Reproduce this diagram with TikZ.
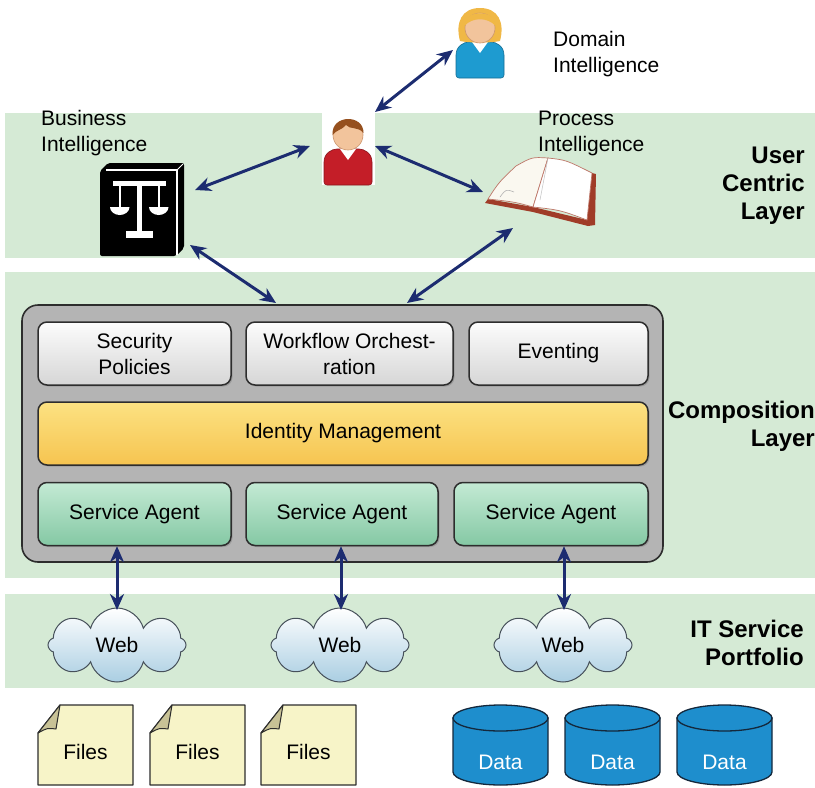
\documentclass[tikz,border=0pt]{standalone}
\usepackage{fontspec}
\setmainfont{Liberation Sans}
\usetikzlibrary{arrows.meta,shapes.symbols,shadows}

\definecolor{band}{RGB}{213,234,213}
\definecolor{arrowblue}{RGB}{28,44,112}
\definecolor{outergray}{RGB}{180,180,180}
\definecolor{boxline}{RGB}{45,45,45}
\definecolor{greytop}{RGB}{252,252,252}
\definecolor{greybot}{RGB}{214,214,214}
\definecolor{yeltop}{RGB}{252,226,130}
\definecolor{yelbot}{RGB}{246,196,80}
\definecolor{agenttop}{RGB}{196,234,212}
\definecolor{agentbot}{RGB}{132,200,164}
\definecolor{cloudblue}{RGB}{170,206,226}
\definecolor{cloudline}{RGB}{70,80,90}
\definecolor{fileyellow}{RGB}{247,244,200}
\definecolor{foldtan}{RGB}{200,194,150}
\definecolor{datablue}{RGB}{30,142,205}
\definecolor{dataline}{RGB}{20,40,60}
\definecolor{skin}{RGB}{242,196,156}
\definecolor{skinline}{RGB}{205,150,110}
\definecolor{manhair}{RGB}{150,80,30}
\definecolor{womanhair}{RGB}{240,184,70}
\definecolor{redbody}{RGB}{196,30,40}
\definecolor{bluebody}{RGB}{30,155,208}
\definecolor{bookbrown}{RGB}{160,60,40}
\definecolor{pagecream}{RGB}{250,248,240}

\tikzset{
  txt/.style={font=\fontsize{21}{26}\selectfont, inner sep=0pt},
  layerlabel/.style={font=\fontsize{24}{28}\selectfont\bfseries, align=right, anchor=east, inner sep=0pt},
  intlabel/.style={txt, align=left, anchor=west},
  modbox/.style={draw=boxline, line width=1.5pt, rounded corners=9pt, align=center,
    txt, minimum height=63pt,
    drop shadow={shadow xshift=1.5pt, shadow yshift=-1.5pt, opacity=0.45}},
  greybox/.style={modbox, top color=greytop, bottom color=greybot},
  yelbox/.style={modbox, top color=yeltop, bottom color=yelbot},
  agentbox/.style={modbox, top color=agenttop, bottom color=agentbot},
  webcloud/.style={cloud, cloud puffs=8, aspect=1.9, minimum width=138pt,
    minimum height=74pt, draw=cloudline, line width=1pt,
    top color=white, bottom color=cloudblue, txt},
  conn/.style={draw=arrowblue, line width=3pt,
    {Stealth[length=16pt,width=14pt]}-{Stealth[length=16pt,width=14pt]}},
  pics/person/.style n args={3}{code={
    % body
    \path[fill=#1, draw=#1!70!black, line width=0.6pt, rounded corners=3pt]
      (-24,50) -- (-24,30) .. controls (-24,18) and (-16,14) .. (-8,14)
      -- (8,14) .. controls (16,14) and (24,18) .. (24,30) -- (24,50) -- cycle;
    \fill[white] (-8,14) -- (0,25) -- (8,14) -- cycle;
    % hair behind the head
    \ifnum#3=1
      \fill[#2] (-20,13) .. controls (-25,-6) and (-18,-20) .. (0,-20)
        .. controls (18,-20) and (25,-6) .. (20,13)
        .. controls (12,15) and (-12,15) .. (-20,13) -- cycle;
    \fi
    % head
    \path[fill=skin, draw=skinline, line width=0.6pt] (0,0) circle[radius=15];
    % fringe
    \ifnum#3=1
      \fill[#2] (-15.5,-2) .. controls (-16,-19) and (16,-19) .. (15.5,-2)
        .. controls (8,-11) and (-8,-11) .. (-15.5,-2) -- cycle;
    \else
      \fill[#2] (-15.5,0) .. controls (-17,-21) and (16,-21) .. (15.5,-2)
        .. controls (10,-9) and (2,-5) .. (-2,-10)
        .. controls (-6,-5) and (-12,-5) .. (-15.5,0) -- cycle;
    \fi
  }}
}

\begin{document}
\begin{tikzpicture}[x=1pt,y=-1pt]
\useasboundingbox (0,0) rectangle (815,788);

% layer bands
\fill[band] (5,113) rectangle (815,258);
\fill[band] (5,272) rectangle (815,578);
\fill[band] (5,594) rectangle (815,688);

% layer titles
\node[layerlabel] (ucl) at (805,186) {User\\Centric\\Layer};
\node[layerlabel] (cl) at (815,426) {Composition\\Layer};
\node[layerlabel] (itsp) at (804,643) {IT Service\\Portfolio};

% composition container
\path[fill=outergray, draw=boxline, line width=1.6pt, rounded corners=16pt]
  (22,305) rectangle (663,562);
\node[inner sep=0pt, minimum width=641pt, minimum height=257pt] (comp) at (342.5,433.5) {};

\node[greybox, minimum width=193pt] (sec) at (134.5,353.5) {Security\\Policies};
\node[greybox, minimum width=207pt] (wf) at (349.5,353.5) {Workflow Orchest-\\ration};
\node[greybox, minimum width=179pt] (ev) at (558.5,353.5) {Eventing};
\node[yelbox, minimum width=610pt] (idm) at (343,433.5) {Identity Management};
\node[agentbox, minimum width=193pt] (sa1) at (134.5,514) {Service Agent};
\node[agentbox, minimum width=192pt] (sa2) at (342,514) {Service Agent};
\node[agentbox, minimum width=194pt] (sa3) at (551,514) {Service Agent};

% web clouds
\node[webcloud] (web1) at (117,645) {Web};
\node[webcloud] (web2) at (340,645) {Web};
\node[webcloud] (web3) at (563,645) {Web};

\draw[conn] (sa1.south -| 117,0) -- (117,610) coordinate (w1top);
\draw[conn] (sa2.south -| 341,0) -- (341,610) coordinate (w2top);
\draw[conn] (sa3.south -| 564,0) -- (564,610) coordinate (w3top);

% file sheets with folded corner
\foreach \x/\n in {38/1,150/2,261/3} {
  \path[draw=boxline, line width=1.2pt, fill=fileyellow, line join=round]
    (\x+22,705) -- (\x+95,705) -- (\x+95,785) -- (\x,785) -- (\x,733) -- cycle;
  \path[draw=boxline, line width=1pt, fill=foldtan, line join=round]
    (\x+22,705) -- (\x,733) .. controls (\x+9,728) .. (\x+18,729) -- cycle;
  \node[txt] (file\n) at (\x+47.5,752) {Files};
}

% data stores
\foreach \c/\n in {500.5/1,612.5/2,724.5/3} {
  \path[fill=datablue, draw=dataline, line width=1.3pt]
    (\c-47.5,718) -- (\c-47.5,772)
    arc[start angle=180, end angle=0, x radius=47.5, y radius=13]
    -- (\c+47.5,718) -- cycle;
  \path[fill=datablue, draw=dataline, line width=1.3pt]
    (\c,718) ellipse[x radius=47.5, y radius=13];
  \node[txt, text=white] (data\n) at (\c,762) {Data};
}

% user
\node[fill=white, inner sep=0pt, minimum width=53pt, minimum height=73pt] (user) at (348.5,148.5) {};
\pic at (348,135) {person={redbody}{manhair}{0}};

% domain expert
\pic at (480,28) {person={bluebody}{womanhair}{1}};
\node[inner sep=0pt, minimum width=50pt, minimum height=70pt] (dom) at (481,43) {};
\node[intlabel] (domlabel) at (553,54) {Domain\\Intelligence};

% business intelligence: law book
\node[inner sep=0pt, minimum width=84pt, minimum height=93pt] (bi) at (142,209.5) {};
\fill[black, rounded corners=2pt]
  (100,171) -- (108,163) -- (184,163) -- (184,248) -- (176,256) -- (100,256) -- cycle;
\draw[white, line width=1.2pt] (106,170) -- (177,170) -- (177,255);
\draw[white, line width=1pt] (177,170) -- (183,164);
\begin{scope}[white]
  \fill (113,181) rectangle (166,186);
  \fill (137,186) rectangle (142,233);
  \fill (126,231) rectangle (153,238);
  \fill (118.5,186) rectangle (121,208);
  \fill (157.5,186) rectangle (160,208);
  \fill (110,207) arc[start angle=180, end angle=0, x radius=9.75, y radius=8] -- cycle;
  \fill (149,207) arc[start angle=180, end angle=0, x radius=9.75, y radius=8] -- cycle;
\end{scope}
\node[intlabel] (bilabel) at (41,133) {Business\\Intelligence};

% process intelligence: open book
\node[inner sep=0pt, minimum width=110pt, minimum height=70pt] (pi) at (540,192) {};
\path[fill=bookbrown, line join=round]
  (485,203) -- (533,212) -- (588,226) -- (595,225) -- (596,174) -- (592,173)
  -- (587,220) -- (533,207) -- (488,199) -- cycle;
\path[fill=pagecream, draw=bookbrown!70, line width=0.7pt]
  (488,199) .. controls (499,182) .. (516,166) .. controls (532,157) .. (548,158)
  -- (533,207) .. controls (515,202) .. (488,199) -- cycle;
\path[fill=white, draw=bookbrown!70, line width=0.7pt]
  (548,158) .. controls (566,160) .. (592,173) -- (587,220)
  .. controls (560,210) .. (533,207) -- cycle;
\draw[gray!60, line width=0.6pt] (500,197) .. controls (506,189) .. (514,192);
\draw[gray!50, line width=0.5pt] (548,158) -- (540,200);
\node[intlabel] (pilabel) at (538,133) {Process\\Intelligence};

% connector end points
\coordinate (u-dom) at (375,112);
\coordinate (dom-u) at (453,50);
\coordinate (u-bi) at (310,146);
\coordinate (bi-u) at (195,190);
\coordinate (u-pi) at (375,146);
\coordinate (pi-u) at (483,192);
\coordinate (bi-c) at (190,245);
\coordinate (c-bi) at (276,303);
\coordinate (pi-c) at (513,228);
\coordinate (c-pi) at (407,303);

\draw[conn] (u-dom) -- (dom-u);
\draw[conn] (u-bi) -- (bi-u);
\draw[conn] (u-pi) -- (pi-u);
\draw[conn] (bi-c) -- (c-bi);
\draw[conn] (pi-c) -- (c-pi);
\end{tikzpicture}
\end{document}
